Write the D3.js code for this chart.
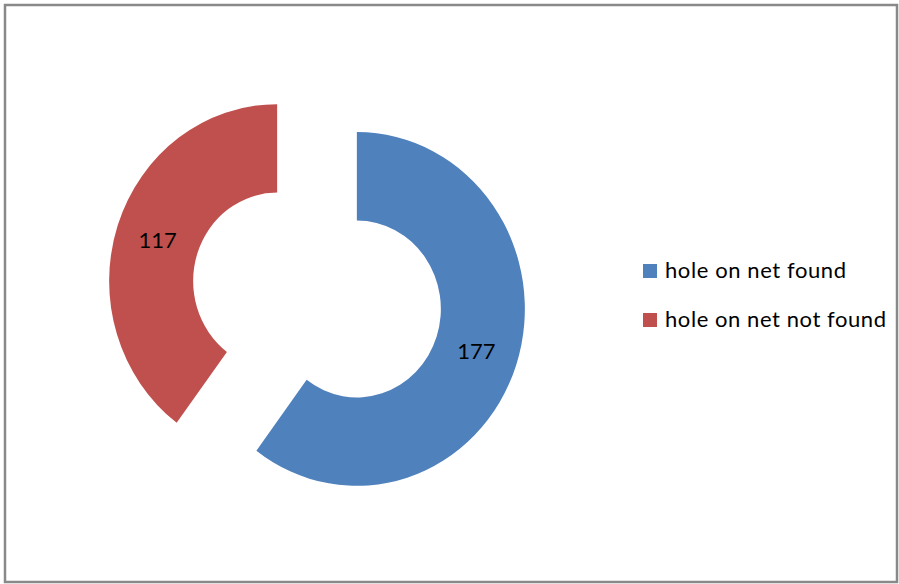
<!DOCTYPE html>
<html>
<head>
<meta charset="utf-8">
<script src="https://cdn.jsdelivr.net/npm/d3@7"></script>
<style>
  html, body { margin: 0; padding: 0; background: #fff; }
  svg { display: block; }
  text { font-family: Lato, "Liberation Sans", sans-serif; fill: #000; }
</style>
</head>
<body>
<svg id="chart" width="899" height="584"></svg>
<script>
// Survey results: hole on net found vs. not found
const categories = ["hole on net found", "hole on net not found"];
const values = [177, 117];
const colors = ["#4F81BD", "#C0504D"];

const svg = d3.select("#chart");

// Chart area frame
svg.append("rect")
  .attr("x", 5).attr("y", 5)
  .attr("width", 892).attr("height", 577)
  .attr("fill", "#fff")
  .attr("stroke", "#898989")
  .attr("stroke-width", 2.5);

// Donut geometry (slightly taller than wide, slices exploded outward)
const cx = 317, cy = 295;
const outerR = 168, innerR = 84;
const yScale = 1.053;
const explode = 42;

const data = categories.map((c, i) => ({ category: c, value: values[i], color: colors[i] }));

const pie = d3.pie().value(d => d.value).sort(null);
const arcs = pie(data);

const arc = d3.arc().innerRadius(innerR).outerRadius(outerR);

const donut = svg.append("g")
  .attr("transform", `translate(${cx},${cy}) scale(1,${yScale})`);

function offset(d) {
  const mid = (d.startAngle + d.endAngle) / 2;
  return [Math.sin(mid) * explode, -Math.cos(mid) * explode];
}

donut.selectAll("path")
  .data(arcs)
  .join("path")
  .attr("d", arc)
  .attr("fill", d => d.data.color)
  .attr("transform", d => {
    const [dx, dy] = offset(d);
    return `translate(${dx},${dy})`;
  });

// Value labels placed on the ring's mid-radius
const midR = (innerR + outerR) / 2;
const labelArc = d3.arc().innerRadius(midR).outerRadius(midR);

svg.append("g")
  .selectAll("text")
  .data(arcs)
  .join("text")
  .attr("text-anchor", "middle")
  .attr("dominant-baseline", "central")
  .style("font-size", "22px")
  .attr("x", d => {
    const [dx] = offset(d);
    return cx + labelArc.centroid(d)[0] + dx;
  })
  .attr("y", d => {
    const [, dy] = offset(d);
    return cy + (labelArc.centroid(d)[1] + dy) * yScale;
  })
  .text(d => d.data.value);

// Legend
const legend = svg.append("g").attr("transform", "translate(643,264)");
const rowH = 49;
const labelWidths = [181, 221];
const items = legend.selectAll("g")
  .data(data)
  .join("g")
  .attr("transform", (d, i) => `translate(0,${i * rowH})`);

items.append("rect")
  .attr("width", 14).attr("height", 14)
  .attr("fill", d => d.color);

items.append("text")
  .attr("x", 22)
  .attr("y", 14)
  .style("font-size", "22px")
  .attr("textLength", (d, i) => labelWidths[i])
  .attr("lengthAdjust", "spacing")
  .text(d => d.category);
</script>
</body>
</html>
